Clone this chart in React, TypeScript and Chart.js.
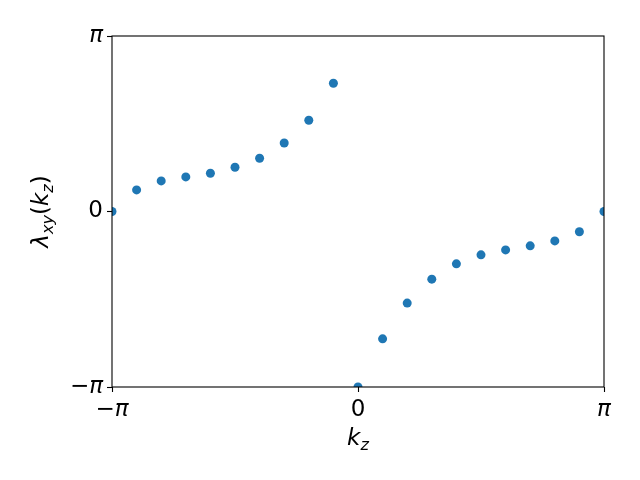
import React, { useEffect, useRef } from "react";
import { Chart, registerables } from "chart.js";

Chart.register(...registerables);

// k_z values in units of pi
const KZ_OVER_PI = [
  -1, -0.9, -0.8, -0.7, -0.6, -0.5, -0.4, -0.3, -0.2, -0.1, 0,
  0.1, 0.2, 0.3, 0.4, 0.5, 0.6, 0.7, 0.8, 0.9, 1,
];
// lambda_xy(k_z)
const LAMBDA = [
  0, 0.386, 0.547, 0.619, 0.685, 0.792, 0.953, 1.227, 1.633, 2.295,
  -3.1416, -2.279, -1.64, -1.211, -0.937, -0.776, -0.687, -0.615, -0.526, -0.363, 0,
];
const TICKS_OVER_PI = [-1, 0, 1];
const TICK_LABELS = ["−π", "0", "π"];
const X_TITLE = [
  { text: "k", italic: true, sub: false },
  { text: "z", italic: true, sub: true },
];
const Y_TITLE = [
  { text: "λ", italic: true, sub: false },
  { text: "xy", italic: true, sub: true },
  { text: "(", italic: false, sub: false },
  { text: "k", italic: true, sub: false },
  { text: "z", italic: true, sub: true },
  { text: ")", italic: false, sub: false },
];

const FAMILY = "'DejaVu Sans'";
const FS = 23;
const COLOR = "#1f77b4";

type Seg = { text: string; italic: boolean; sub: boolean };

function segFont(s: Seg) {
  const size = s.sub ? FS * 0.7 : FS;
  return `${s.italic ? "italic " : ""}${size}px ${FAMILY}`;
}

function drawRich(ctx: CanvasRenderingContext2D, segs: Seg[], cx: number, baseY: number) {
  let total = 0;
  const widths = segs.map((s) => {
    ctx.font = segFont(s);
    const w = ctx.measureText(s.text).width;
    total += w;
    return w;
  });
  let x = cx - total / 2;
  ctx.textAlign = "left";
  ctx.textBaseline = "alphabetic";
  ctx.fillStyle = "#000";
  segs.forEach((s, i) => {
    ctx.font = segFont(s);
    ctx.fillText(s.text, x, baseY + (s.sub ? FS * 0.2 : 0));
    x += widths[i];
  });
}

const decorPlugin = {
  id: "decor",
  afterDatasetsDraw(chart: any) {
    const ctx = chart.ctx as CanvasRenderingContext2D;
    const a = chart.chartArea;
    ctx.save();
    ctx.strokeStyle = "#000";
    ctx.lineWidth = 1.1;
    ctx.strokeRect(a.left, a.top, a.right - a.left, a.bottom - a.top);
    ctx.restore();
  },
  afterDraw(chart: any) {
    const ctx = chart.ctx as CanvasRenderingContext2D;
    const a = chart.chartArea;
    ctx.save();
    drawRich(ctx, X_TITLE, (a.left + a.right) / 2, 445);
    ctx.translate(48, (a.top + a.bottom) / 2);
    ctx.rotate(-Math.PI / 2);
    drawRich(ctx, Y_TITLE, 0, 0);
    ctx.restore();
  },
};

function tickFont(c: any) {
  return { family: FAMILY, size: FS, style: c.index === 1 ? "normal" : "italic" };
}

function axis(extra: any) {
  return {
    type: "linear",
    min: -Math.PI,
    max: Math.PI,
    afterBuildTicks: (scale: any) => {
      scale.ticks = TICKS_OVER_PI.map((v) => ({ value: v * Math.PI }));
    },
    grid: {
      display: true,
      drawOnChartArea: false,
      drawTicks: true,
      tickLength: 5,
      tickWidth: 1.1,
      tickColor: "#000",
    },
    border: { display: false },
    ticks: {
      autoSkip: false,
      maxRotation: 0,
      padding: 4,
      color: "#000",
      font: tickFont,
      callback: (_v: any, i: number) => TICK_LABELS[i],
    },
    ...extra,
  };
}

export default function App() {
  const ref = useRef<HTMLCanvasElement>(null);
  useEffect(() => {
    document.body.style.margin = "0";
    const chart = new Chart(ref.current as HTMLCanvasElement, {
      type: "scatter",
      data: {
        datasets: [
          {
            data: KZ_OVER_PI.map((k, i) => ({ x: k * Math.PI, y: LAMBDA[i] })),
            backgroundColor: COLOR,
            borderColor: COLOR,
            borderWidth: 0,
            pointRadius: 4.5,
            clip: 0,
          } as any,
        ],
      },
      options: {
        responsive: false,
        animation: false,
        layout: { padding: { top: 36, right: 36, left: 0, bottom: 0 } },
        plugins: { legend: { display: false }, tooltip: { enabled: false } },
        scales: {
          x: axis({
            afterFit: (s: any) => {
              s.height = 93;
            },
          }),
          y: axis({
            afterFit: (s: any) => {
              s.width = 112;
            },
          }),
        } as any,
      },
      plugins: [decorPlugin],
    });
    return () => chart.destroy();
  }, []);
  return (
    <div style={{ position: "fixed", left: 0, top: 0, width: 640, height: 480, background: "#fff" }}>
      <canvas ref={ref} width={640} height={480} style={{ display: "block" }} />
    </div>
  );
}
